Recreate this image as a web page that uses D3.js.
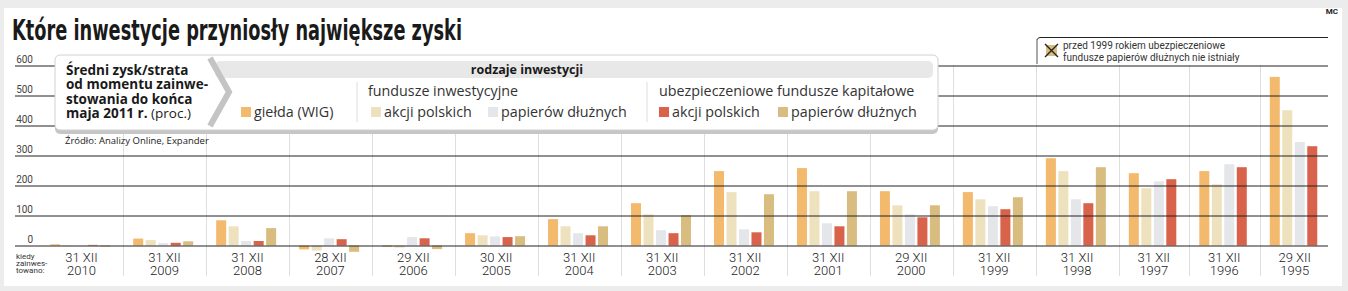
<!DOCTYPE html>
<html>
<head>
<meta charset="utf-8">
<script src="https://cdn.jsdelivr.net/npm/d3@7"></script>
<style>
  body { margin: 0; background: #ececec; }
  svg { display: block; font-family: Roboto, "Noto Sans", sans-serif; }
</style>
</head>
<body>
<div id="chart"></div>
<script>
// data (percent gain/loss until end of May 2011)
var days  = ["31 XII","31 XII","31 XII","28 XII","29 XII","30 XII","31 XII","31 XII","31 XII","31 XII","29 XII","31 XII","31 XII","31 XII","31 XII","29 XII"];
var years = ["2010","2009","2008","2007","2006","2005","2004","2003","2002","2001","2000","1999","1998","1997","1996","1995"];
var wig      = [4, 23, 84, -13, -4, 41, 88, 141, 248, 258, 181, 178, 291, 241, 248, 562];
var fiAkcji  = [-2, 18, 64, -17, -7, 34, 64, 104, 178, 181, 134, 154, 248, 191, 204, 451];
var fiDluz   = [1, 8, 15, 24, 28, 30, 41, 51, 54, 74, 104, 131, 154, 214, 271, 345];
var ufkAkcji = [2, 9, 15, 21, 24, 28, 34, 41, 44, 64, 94, 121, 141, 221, 261, 331];
var ufkDluz  = [-3, 14, 58, -21, -12, 31, 64, 101, 171, 181, 134, 161, 261, null, null, null];
var yTicks = [0, 100, 200, 300, 400, 500, 600];
var seriesNames = ["giełda (WIG)", "akcji polskich", "papierów dłużnych", "akcji polskich", "papierów dłużnych"];
var colors = ["#f3b96c", "#eee1be", "#e4e6e9", "#d8634a", "#d9bd80"];

var W = 1348, H = 291;
var legendFont = "'Open Sans', Roboto, sans-serif";
var svg = d3.select("#chart").append("svg")
    .attr("width", W)
    .attr("height", H);

svg.append("rect").attr("width", W).attr("height", H).attr("fill", "#ececec");
svg.append("rect")
    .attr("x", 4).attr("y", 8)
    .attr("width", 1338).attr("height", 278)
    .attr("fill", "#fff");

// groups: bars that exist in each year, width depends on count
var series = [wig, fiAkcji, fiDluz, ufkAkcji, ufkDluz];
var pad = 0.82, barW = 0.8;
var acc = 0;
var groups = years.map(function(yr, i) {
  var vals = [];
  series.forEach(function(s, k) { if (s[i] !== null) vals.push({k: k, v: s[i]}); });
  var g = {start: acc, n: vals.length, vals: vals, day: days[i], year: yr};
  acc += vals.length + 2 * pad;
  return g;
});

var x = d3.scaleLinear().domain([0, acc]).range([40, 1330]);
var y = d3.scaleLinear().domain([0, 600]).range([245.5, 65.5]);

// group separators
svg.selectAll(".sep")
    .data(groups.slice(1))
  .enter().append("line")
    .attr("class", "sep")
    .attr("x1", function(d) { return Math.round(x(d.start)) + 0.5; })
    .attr("x2", function(d) { return Math.round(x(d.start)) + 0.5; })
    .attr("y1", 65).attr("y2", 276)
    .attr("stroke", "#dedede");

// bars
var bars = svg.append("g").attr("class", "bars");
groups.forEach(function(g) {
  bars.selectAll(null)
      .data(g.vals)
    .enter().append("rect")
      .attr("x", function(d, i) { return x(g.start + pad + i); })
      .attr("width", x(barW) - x(0))
      .attr("y", function(d) { return y(Math.max(0, d.v)); })
      .attr("height", function(d) { return Math.abs(y(d.v) - y(0)); })
      .attr("fill", function(d) { return colors[d.k]; });
});

// gridlines + y labels
var yAxis = svg.append("g")
    .attr("transform", "translate(15,0)")
    .call(d3.axisRight(y).tickValues(yTicks).tickSize(1313));
yAxis.select(".domain").remove();
yAxis.selectAll(".tick line").attr("stroke", "#222");
yAxis.selectAll(".tick text")
    .attr("x", 18).attr("dy", -3)
    .attr("text-anchor", "end")
    .attr("font-family", "Roboto, sans-serif")
    .attr("font-size", 10)
    .attr("fill", "#444");

// x labels
var xl = svg.selectAll(".xl")
    .data(groups)
  .enter().append("text")
    .attr("class", "xl")
    .attr("text-anchor", "middle")
    .attr("font-size", 13)
    .attr("font-weight", 300)
    .attr("fill", "#222")
    .attr("transform", function(d) { return "translate(" + x(d.start + (d.n + 2 * pad) / 2) + ",0)"; });
xl.append("tspan").attr("x", 0).attr("y", 262).text(function(d) { return d.day; });
xl.append("tspan").attr("x", 0).attr("y", 275).text(function(d) { return d.year; });

var kiedy = svg.append("text").attr("font-size", 8).attr("fill", "#333");
["kiedy", "zainwes-", "towano:"].forEach(function(t, i) {
  kiedy.append("tspan").attr("x", 16).attr("y", 259 + i * 7).text(t);
});

// title
svg.append("text")
    .attr("x", 12).attr("y", 40)
    .attr("font-family", "'Liberation Sans Narrow', 'DejaVu Sans Condensed', 'Roboto', sans-serif")
    .attr("font-weight", 700)
    .attr("font-size", 29)
    .attr("textLength", 450)
    .attr("lengthAdjust", "spacingAndGlyphs")
    .attr("fill", "#1a1a1a")
    .text("Które inwestycje przyniosły największe zyski");

svg.append("text")
    .attr("x", 1338).attr("y", 14)
    .attr("text-anchor", "end")
    .attr("font-size", 8).attr("font-weight", 700)
    .attr("fill", "#222")
    .text("MC");

// legend box
var lg = svg.append("g").attr("font-family", legendFont);
lg.append("rect").attr("x", 55).attr("y", 58).attr("width", 883).attr("height", 76)
    .attr("rx", 5).attr("fill", "#c6c6c6");
lg.append("rect").attr("x", 55).attr("y", 55).attr("width", 883).attr("height", 75)
    .attr("rx", 5).attr("fill", "#fff").attr("stroke", "#d0d0d0");
lg.append("rect").attr("x", 215).attr("y", 61).attr("width", 718).attr("height", 17)
    .attr("rx", 5).attr("fill", "#e8e8e8");
lg.append("polyline")
    .attr("points", "210,58 229,92 210,126")
    .attr("fill", "none").attr("stroke", "#c4c4c4").attr("stroke-width", 6);

var lead = lg.append("text").attr("font-size", 13.5).attr("font-weight", 700).attr("fill", "#1a1a1a");
["Średni zysk/strata", "od momentu zainwe-", "stowania do końca", "maja 2011 r."].forEach(function(t, i) {
  lead.append("tspan").attr("x", 66).attr("y", 74.5 + i * 14.6).text(t);
});
lead.append("tspan").attr("font-weight", 400).text(" (proc.)");

lg.append("text").attr("x", 527).attr("y", 74).attr("text-anchor", "middle")
    .attr("font-size", 12.5).attr("font-weight", 700).attr("fill", "#1a1a1a")
    .text("rodzaje inwestycji");
lg.append("text").attr("x", 368).attr("y", 96).attr("font-size", 14.3).attr("fill", "#333")
    .text("fundusze inwestycyjne");
lg.append("text").attr("x", 659).attr("y", 96).attr("font-size", 14.3).attr("fill", "#333")
    .text("ubezpieczeniowe fundusze kapitałowe");

[357, 647].forEach(function(px) {
  lg.append("line").attr("x1", px).attr("x2", px).attr("y1", 82).attr("y2", 122)
      .attr("stroke", "#ddd");
});

var legX = [241, 371, 488, 659, 778];
var items = lg.selectAll(".item")
    .data(seriesNames)
  .enter().append("g")
    .attr("transform", function(d, i) { return "translate(" + legX[i] + ",107)"; });
items.append("rect").attr("width", 10).attr("height", 10)
    .attr("fill", function(d, i) { return colors[i]; });
items.append("text").attr("x", 13).attr("y", 10)
    .attr("font-size", 14.3).attr("fill", "#333")
    .text(function(d) { return d; });

svg.append("text").attr("x", 65).attr("y", 144)
    .attr("font-family", legendFont)
    .attr("font-size", 9.5).attr("fill", "#222")
    .text("Źródło: Analizy Online, Expander");

// note box at top right
var nb = svg.append("g");
nb.append("rect").attr("x", 1036).attr("y", 37).attr("width", 292).attr("height", 28).attr("fill", "#fff");
nb.append("path").attr("d", "M1036.5,64 V42 Q1036.5,37.5 1041,37.5 H1328")
    .attr("fill", "none").attr("stroke", "#222");
nb.append("line").attr("x1", 1037).attr("x2", 1037).attr("y1", 40).attr("y2", 64)
    .attr("stroke", "#aaa").attr("stroke-width", 2);
nb.append("rect").attr("x", 1046).attr("y", 45).attr("width", 11).attr("height", 11).attr("fill", colors[4]);
nb.append("path").attr("d", "M1045,44 L1058,57 M1058,44 L1045,57")
    .attr("stroke", "#222").attr("stroke-width", 1.4);
var nt = nb.append("text").attr("font-size", 10).attr("fill", "#333");
nt.append("tspan").attr("x", 1063).attr("y", 49).text("przed 1999 rokiem ubezpieczeniowe");
nt.append("tspan").attr("x", 1063).attr("y", 61).text("fundusze papierów dłużnych nie istniały");
</script>
</body>
</html>
